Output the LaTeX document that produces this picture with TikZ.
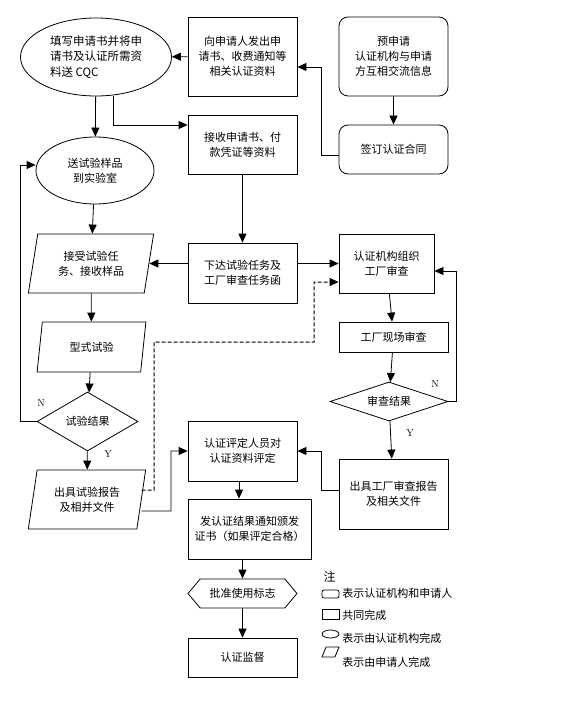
\documentclass[tikz,border=0pt]{standalone}
\usepackage{fontspec}
\newfontfamily\cjk{Noto Sans CJK SC}
\usetikzlibrary{shapes.geometric,shapes.symbols,calc,arrows.meta}

\begin{document}
\begin{tikzpicture}[x=1pt,y=-1pt,line width=0.8pt,
  font=\cjk\fontsize{11}{15}\selectfont,
  >={Triangle[length=9pt,width=8pt]},
  box/.style={draw,rectangle,inner sep=0pt,align=center},
  rbox/.style={box,rounded corners=9pt},
  oval/.style={draw,ellipse,inner sep=0pt,align=center},
  para/.style={draw,trapezium,trapezium left angle=77,trapezium right angle=103,trapezium stretches=true,inner sep=0pt,align=center},
  dia/.style={draw,diamond,inner sep=0pt,aspect=2.5},
  yn/.style={font=\rmfamily\fontsize{10}{12}\selectfont}]
\useasboundingbox (0,0) rectangle (560,711);
\node (fill) [oval,align=left,minimum width=151pt,minimum height=78pt,font=\cjk\fontsize{11.5}{15.5}\selectfont] at (96,57) {填写申请书并将申\\请书及认证所需资\\料送 CQC};
\node (send) [box,minimum width=109pt,minimum height=79pt] at (242.5,56.5) {向申请人发出申\\请书、收费通知等\\相关认证资料};
\node (pre) [rbox,minimum width=109pt,minimum height=79pt] at (393.5,56.5) {预申请\\认证机构与申请\\方互相交流信息};
\node (sign) [rbox,minimum width=109pt,minimum height=49pt] at (393.5,149.5) {签订认证合同};
\node (recv) [box,minimum width=109pt,minimum height=59pt] at (242.5,144.5) {接收申请书、付\\款凭证等资料};
\node (sample) [oval,minimum width=118pt,minimum height=67pt] at (95,170.5) {送试验样品\\到实验室};
\node (accept) [para,minimum width=126pt,minimum height=59pt] at (91,263.5) {接受试验任\\务、接收样品};
\node (task) [box,minimum width=109pt,minimum height=60pt] at (242.5,273) {下达试验任务及\\工厂审查任务函};
\node (org) [box,minimum width=95pt,minimum height=59pt] at (386.5,263.5) {认证机构组织\\工厂审查};
\node (type) [para,minimum width=109pt,minimum height=50pt] at (91.5,347) {型式试验};
\node (site) [box,minimum width=109pt,minimum height=30pt] at (393.5,337) {工厂现场审查};
\node (chk) [dia,minimum width=118pt,minimum height=39pt] at (389,401.5) {审查结果};
\node (res) [dia,minimum width=101pt,minimum height=59pt] at (87.5,421.5) {试验结果};
\node (eval) [box,minimum width=109pt,minimum height=60pt] at (242.5,451) {认证评定人员对\\认证资料评定};
\node (frep) [box,minimum width=109pt,minimum height=70pt] at (393.5,494) {出具工厂审查报告\\及相关文件};
\node (trep) [para,minimum width=118pt,minimum height=59pt] at (87,499.5) {出具试验报告\\及相并文件};
\node (cert) [box,minimum width=123pt,minimum height=60pt] at (249.5,529) {发认证结果通知颁发\\证书（如果评定合格）};
\node (mark) [draw,signal,signal to=west and east,signal pointer angle=100,inner sep=0pt,minimum width=109pt,minimum height=29pt] at (242.5,593.5) {批准使用标志};
\node (sup) [box,minimum width=109pt,minimum height=39pt] at (242.5,657.5) {认证监督};
\node (n1) [yn] at (41,403) {N};
\node (y1) [yn] at (108,454) {Y};
\node (n2) [yn] at (435,384) {N};
\node (y2) [yn] at (410,433) {Y};
\draw[->] (send) -- (fill);
\draw[->] ([yshift=-5.5pt]sign.west) -- ++(-17,0) |- ([yshift=-10.5pt]send.east);
\draw[->] (pre) -- (sign);
\draw[->] (fill) -- (sample);
\draw[->] ([xshift=17pt]fill.south) |- ([yshift=19.5pt]recv.west);
\draw[->] (res.west) -- ++(-16,0) |- ([yshift=5.5pt]sample.west);
\draw[->] (sample) -- (accept);
\draw[->] (recv) -- (task);
\draw[->] (task.west |- accept.east) -- (accept.east);
\draw[->] (task.east |- org.west) -- (org.west);
\draw[->] (accept) -- (type);
\draw[->] (org) -- (site);
\draw[->] (type) -- (res);
\draw[->] (site) -- (chk);
\draw[->] (chk.east) -- ++(8,0) |- ([yshift=-7.5pt]org.east);
\draw[->] (chk) -- (frep);
\draw[->] (res) -- (trep);
\draw[->] ([yshift=-11.5pt]trep.east) -- (171,511) |- (eval.west);
\draw[->,line width=1pt,dash pattern=on 4pt off 2pt] ([yshift=9.5pt]trep.east) -- (154,490) -- (154,342) -- (314,342) |- ([yshift=-18.5pt]org.west);
\draw[->] ([yshift=4pt]frep.west) -- ++(-17,0) |- (eval.east);
\draw[->] ([xshift=-3.5pt]eval.south) -- ([xshift=-3.5pt]eval.south |- cert.north);
\draw[->] (mark.north |- cert.south) -- (mark.north);
\draw[->] (mark) -- (sup);
\node (note) [anchor=west,font=\cjk\fontsize{12}{14}\selectfont] at (320,577) {注};
\node (k1) [draw,rectangle,rounded corners=2pt,inner sep=0pt,minimum width=17pt,minimum height=8pt] at (330.5,594) {};
\node (k1t) [anchor=west,inner sep=0pt] at (342,593) {表示认证机构和申请人};
\node (k2) [draw,rectangle,inner sep=0pt,minimum width=17pt,minimum height=10pt] at (330.5,614) {};
\node (k2t) [anchor=west,inner sep=0pt] at (342,615) {共同完成};
\node (k3) [draw,ellipse,inner sep=0pt,minimum width=17pt,minimum height=8pt] at (330.5,634) {};
\node (k3t) [anchor=west,inner sep=0pt] at (342,638) {表示由认证机构完成};
\node (k4) [draw,trapezium,trapezium left angle=65,trapezium right angle=115,trapezium stretches=true,inner sep=1pt,minimum width=17pt,minimum height=10pt] at (330.5,652) {};
\node (k4t) [anchor=west,inner sep=0pt] at (342,662) {表示由申请人完成};
\end{tikzpicture}
\end{document}
